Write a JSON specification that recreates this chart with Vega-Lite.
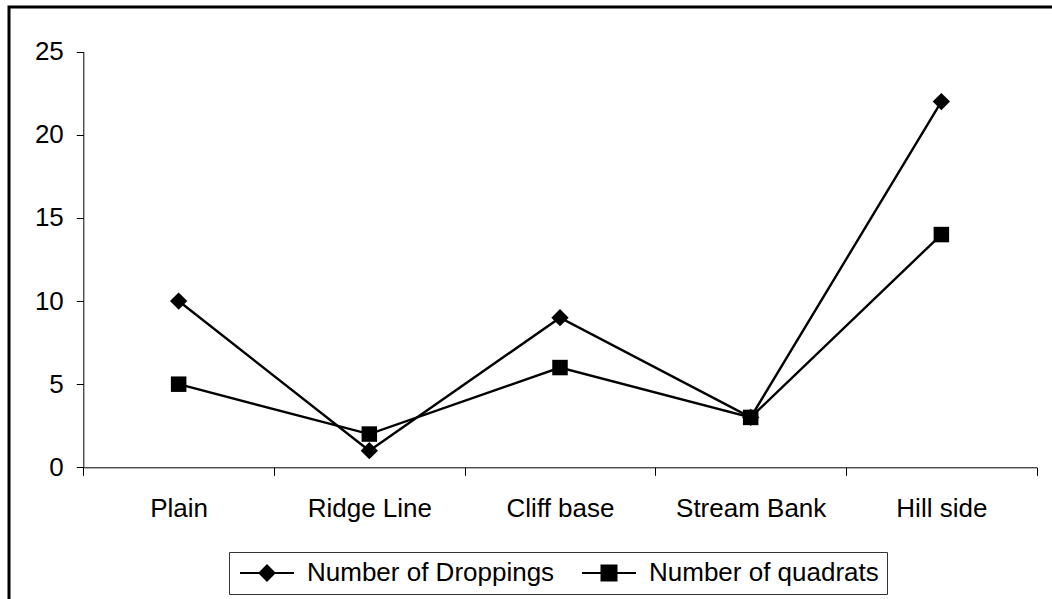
{
  "$schema": "https://vega.github.io/schema/vega-lite/v6.json",
  "autosize": {"type": "none"},
  "padding": {"left": 9, "top": 7, "right": -2, "bottom": -2},
  "width": 1045,
  "height": 594,
  "background": "white",
  "config": {
    "view": {"stroke": "black", "strokeWidth": 3},
    "font": "Liberation Sans"
  },
  "data": {
    "values": [
      {"site": "Plain", "series": "Number of Droppings", "value": 10},
      {"site": "Ridge Line", "series": "Number of Droppings", "value": 1},
      {"site": "Cliff base", "series": "Number of Droppings", "value": 9},
      {"site": "Stream Bank", "series": "Number of Droppings", "value": 3},
      {"site": "Hill side", "series": "Number of Droppings", "value": 22},
      {"site": "Plain", "series": "Number of quadrats", "value": 5},
      {"site": "Ridge Line", "series": "Number of quadrats", "value": 2},
      {"site": "Cliff base", "series": "Number of quadrats", "value": 6},
      {"site": "Stream Bank", "series": "Number of quadrats", "value": 3},
      {"site": "Hill side", "series": "Number of quadrats", "value": 14}
    ]
  },
  "encoding": {
    "x": {
      "field": "site",
      "type": "nominal",
      "sort": ["Plain", "Ridge Line", "Cliff base", "Stream Bank", "Hill side"],
      "scale": {"type": "band", "range": [74.3, 1027.7], "paddingInner": 0, "paddingOuter": 0},
      "axis": {
        "title": null,
        "labelAngle": 0,
        "offset": -133.7,
        "tickBand": "extent",
        "tickSize": 8,
        "tickColor": "black",
        "domainColor": "black",
        "labelColor": "black",
        "labelFont": "Liberation Sans",
        "labelFontSize": 26,
        "labelPadding": 20,
        "grid": false
      }
    },
    "y": {
      "field": "value",
      "type": "quantitative",
      "scale": {"domain": [0, 25], "range": [460.3, 44.7], "nice": false},
      "axis": {
        "title": null,
        "values": [0, 5, 10, 15, 20, 25],
        "offset": -74.3,
        "tickSize": 7,
        "tickColor": "black",
        "domainColor": "black",
        "labelColor": "black",
        "labelFont": "Liberation Sans",
        "labelFontSize": 26,
        "labelPadding": 13,
        "grid": false
      }
    }
  },
  "layer": [
    {
      "mark": {"type": "line", "strokeWidth": 2.4},
      "encoding": {
        "stroke": {
          "field": "series",
          "type": "nominal",
          "scale": {"domain": ["Number of Droppings", "Number of quadrats"], "range": ["black", "black"]},
          "legend": {
            "title": null,
            "orient": "none",
            "direction": "horizontal",
            "legendX": 220,
            "legendY": 545,
            "padding": 8,
            "strokeColor": "#333333",
            "fillColor": "white",
            "columnPadding": 23,
            "symbolSize": 400,
            "symbolStrokeWidth": 2,
            "symbolFillColor": "black",
            "symbolStrokeColor": "black",
            "labelOffset": 44,
            "labelFont": "Liberation Sans",
            "labelFontSize": 26,
            "labelColor": "black",
            "labelLimit": 400,
            "encode": {
              "symbols": {
                "update": {
                  "shape": {"signal": "datum.value === 'Number of Droppings' ? 'M-1,0L4.4,0M1.7,-0.75L2.45,0L1.7,0.75L0.95,0Z' : 'M-1,0L4.4,0M0.95,-0.75L2.45,-0.75L2.45,0.75L0.95,0.75Z'"},
                  "size": {"value": 400},
                  "fill": {"value": "black"},
                  "stroke": {"value": "black"},
                  "strokeWidth": {"value": 2}
                }
              }
            }
          }
        }
      }
    },
    {
      "transform": [{"filter": "datum.series === 'Number of Droppings'"}],
      "mark": {"type": "point", "shape": "diamond", "filled": true, "size": 300, "opacity": 1, "color": "black"}
    },
    {
      "transform": [{"filter": "datum.series === 'Number of quadrats'"}],
      "mark": {"type": "point", "shape": "square", "filled": true, "size": 240, "opacity": 1, "color": "black"}
    }
  ]
}
